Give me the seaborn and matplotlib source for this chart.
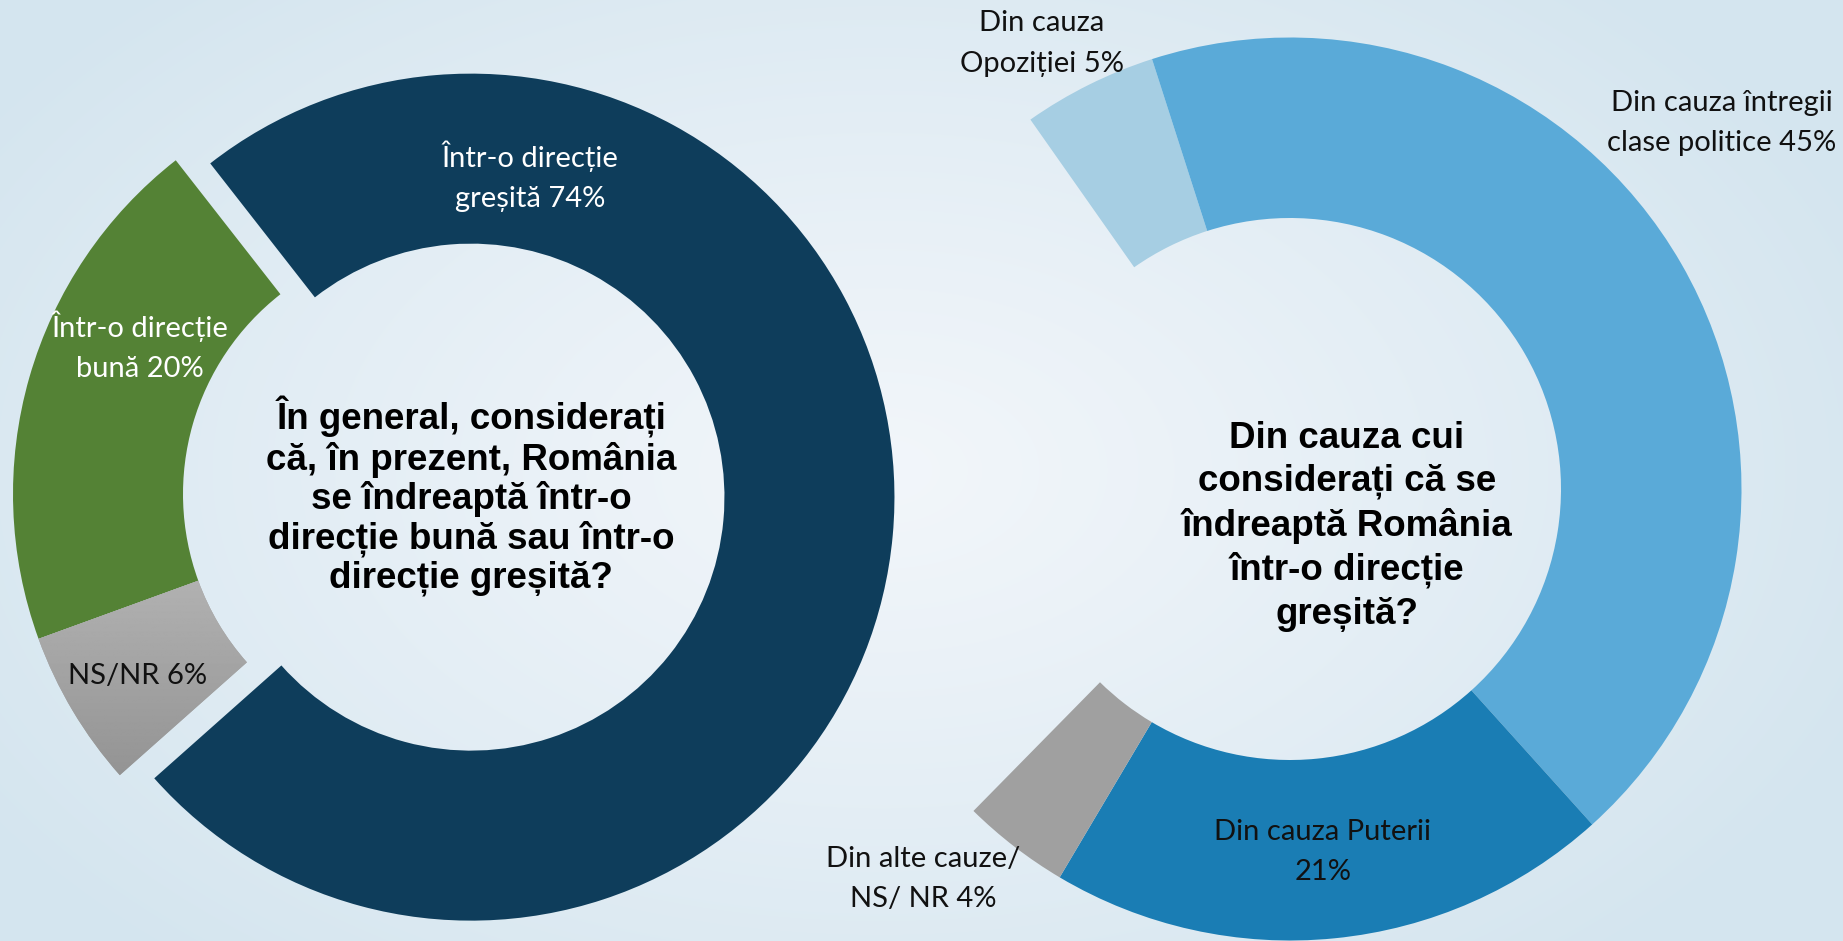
import numpy as np
import seaborn as sns
import matplotlib
matplotlib.use('Agg')
import matplotlib.pyplot as plt

# left donut: direction of the country
left_labels = ['Într-o direcție\nbună 20%', 'NS/NR 6%', 'Într-o direcție\ngreșită 74%']
left_values = [20, 6, 74]
left_colors = ['#548235', '#A6A6A6', '#0E3D5B']

# right donut: who is to blame (last slice is left empty)
right_labels = ['Din cauza\nOpoziției 5%', 'Din cauza întregii\nclase politice 45%',
                'Din cauza Puterii\n21%', 'Din alte cauze/\nNS/ NR 4%', '']
right_values = [5, 45, 21, 4, 29]
right_colors = ['#A6CEE3', '#5AAAD8', '#1A7DB4', '#A0A0A0', 'none']

left_question = 'În general, considerați\ncă, în prezent, România\nse îndreaptă într-o\ndirecție bună sau într-o\ndirecție greșită?'
right_question = 'Din cauza cui\nconsiderați că se\nîndreaptă România\nîntr-o direcție\ngreșită?'

sns.set_theme(style='white')
label_font = ['Lato', 'DejaVu Sans']
q_font = ['Liberation Sans', 'DejaVu Sans']

W, H = 1843, 941
fig = plt.figure(figsize=(W / 100, H / 100), dpi=100)
ax = fig.add_axes([0, 0, 1, 1])


def Y(py):
    # pixel row -> data y (y axis points up)
    return H - py


# soft background gradient
yy, xx = np.mgrid[0:H, 0:W]
d = np.sqrt(((xx - 880) / 1050) ** 2 + ((yy - 470) / 650) ** 2)
d = np.clip(d, 0, 1)
c0 = np.array([0.950, 0.965, 0.982])
c1 = np.array([0.835, 0.900, 0.938])
bg = c0 + (c1 - c0) * d[..., None] ** 1.1
ax.imshow(bg, extent=[0, W, 0, H], origin='upper', zorder=0, aspect='auto')

# left donut; the big slice is pulled out
lw, _ = ax.pie(left_values, colors=left_colors, startangle=128, counterclock=True,
               explode=[0, 0, 34.6], center=(436.5, Y(494)), radius=423.5,
               wedgeprops=dict(width=170, linewidth=0))

# vertical grey gradient on the NS/NR slice
grey = lw[1]
grad = np.linspace(0.70, 0.57, 200)[:, None] * np.ones((1, 10))
im = ax.imshow(grad, cmap='gray', vmin=0, vmax=1, extent=[20, 260, Y(790), Y(570)],
               origin='upper', zorder=grey.get_zorder() + 0.1, aspect='auto')
im.set_clip_path(grey)

# right donut
ax.pie(right_values, colors=right_colors, startangle=125.1, counterclock=False,
       center=(1290, Y(489)), radius=451.5,
       wedgeprops=dict(width=180.5, linewidth=0))

ax.set_xlim(0, W)
ax.set_ylim(0, H)
ax.set_aspect('auto')
ax.axis('off')

# slice labels
lab_pos = [(140, 346, 'white'), (138, 676, '#111111'), (530, 176, 'white')]
for txt, (x, y, c) in zip(left_labels, lab_pos):
    ax.text(x, Y(y), txt, ha='center', va='center', color=c, fontsize=21,
            family=label_font, linespacing=1.68, zorder=5)

rlab_pos = [(1042, 43.5), (1722, 123), (1323, 852), (923, 879)]
for txt, (x, y) in zip(right_labels[:4], rlab_pos):
    ax.text(x, Y(y), txt, ha='center', va='center', color='#111111', fontsize=21,
            family=label_font, linespacing=1.68, zorder=5)

ax.text(471, Y(496), left_question, ha='center', va='center', fontsize=26.5,
        fontweight='bold', family=q_font, linespacing=1.12, color='black')
ax.text(1347, Y(526), right_question, ha='center', va='center', fontsize=26.5,
        fontweight='bold', family=q_font, linespacing=1.3, color='black')

fig.savefig('out.png', dpi=100)
